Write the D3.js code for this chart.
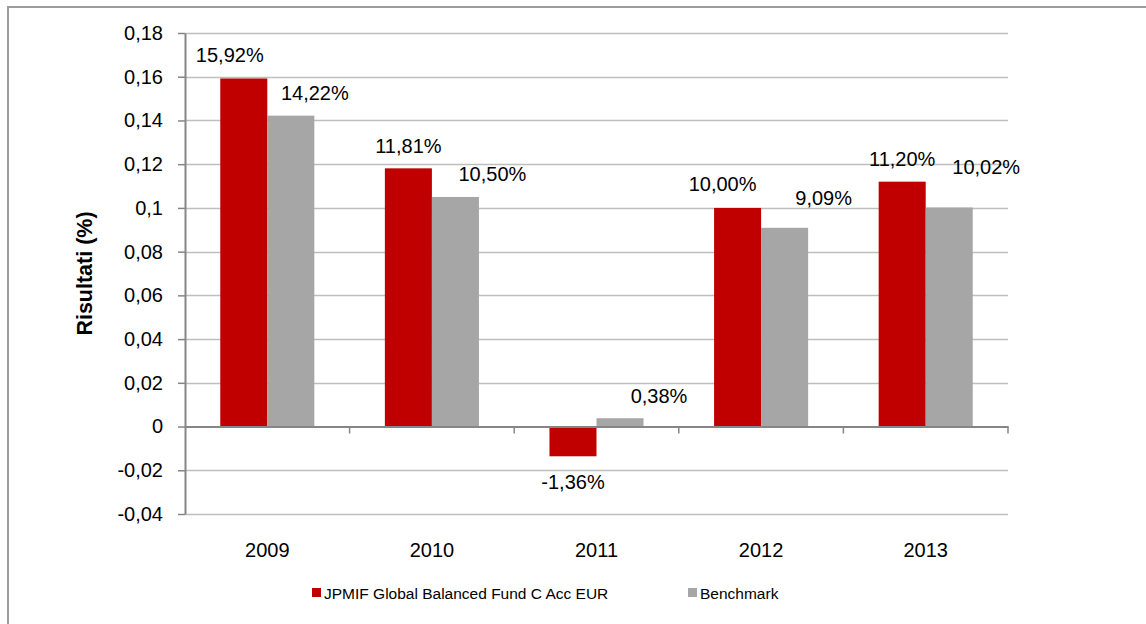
<!DOCTYPE html>
<html>
<head>
<meta charset="utf-8">
<script src="https://cdn.jsdelivr.net/npm/d3@7"></script>
<style>
  html, body { margin: 0; padding: 0; background: #fff; }
  svg { display: block; font-family: "Liberation Sans", Arial, sans-serif; }
</style>
</head>
<body>
<svg id="chart" width="1146" height="624"></svg>
<script>
// Annual returns, fund vs benchmark
const years = ["2009", "2010", "2011", "2012", "2013"];
const seriesNames = ["JPMIF Global Balanced Fund C Acc EUR", "Benchmark"];
const fundReturns = [0.1592, 0.1181, -0.0136, 0.1000, 0.1120];
const benchmarkReturns = [0.1422, 0.1050, 0.0038, 0.0909, 0.1002];
const yTicks = [-0.04, -0.02, 0, 0.02, 0.04, 0.06, 0.08, 0.1, 0.12, 0.14, 0.16, 0.18];
const yTitle = "Risultati (%)";

// Hand-placed data label nudges (px): [dx, extra lift]
const fundLabelNudge = [[-14, 1], [0, 0], [0, 0], [-15, 1], [0, 0]];
const benchLabelNudge = [[24, 0], [37, 0], [39, 0], [39, 7], [37, 18]];

const colors = ["#C00000", "#A6A6A6"];

const it = d3.formatLocale({
  decimal: ",", thousands: ".", grouping: [3], currency: ["", " €"], minus: "-"
});
const fmtTick = it.format(".2~f");
const fmtPct = it.format(".2%");

const svg = d3.select("#chart");

// Outer frame (open to the right and bottom edges of the canvas)
svg.append("rect")
  .attr("x", 8).attr("y", 7)
  .attr("width", 1200).attr("height", 700)
  .attr("fill", "none")
  .attr("stroke", "#9c9c9c")
  .attr("stroke-width", 2);

const plot = { left: 185, right: 1008, top: 33, bottom: 514 };

const x0 = d3.scaleBand().domain(years).range([plot.left, plot.right]).padding(0);
const x1 = d3.scaleBand().domain(seriesNames).range([0, x0.bandwidth()])
  .paddingInner(0).paddingOuter(0.75);
const y = d3.scaleLinear().domain([-0.04, 0.18]).range([plot.bottom, plot.top]);

// Gridlines
svg.append("g")
  .selectAll("line")
  .data(yTicks.filter(d => d !== 0))
  .join("line")
  .attr("x1", plot.left).attr("x2", plot.right)
  .attr("y1", d => Math.round(y(d)) + 0.5).attr("y2", d => Math.round(y(d)) + 0.5)
  .attr("stroke", "#BEBEBE").attr("stroke-width", 1.5);

// Bars
const rows = years.map((yr, i) => ({ year: yr, values: [fundReturns[i], benchmarkReturns[i]] }));
const groups = svg.append("g")
  .selectAll("g")
  .data(rows)
  .join("g")
  .attr("transform", d => `translate(${x0(d.year)},0)`);

groups.selectAll("rect")
  .data(d => d.values.map((v, j) => ({ v, name: seriesNames[j], j })))
  .join("rect")
  .attr("x", d => x1(d.name))
  .attr("width", x1.bandwidth())
  .attr("y", d => y(Math.max(0, d.v)))
  .attr("height", d => Math.abs(y(d.v) - y(0)))
  .attr("fill", d => colors[d.j]);

// Y axis
const yAxis = svg.append("g")
  .attr("transform", `translate(${plot.left},0)`)
  .call(d3.axisLeft(y).tickValues(yTicks).tickFormat(fmtTick)
    .tickSizeInner(7).tickSizeOuter(0).tickPadding(15));
yAxis.select(".domain").attr("stroke", "#868686").attr("stroke-width", 2);
yAxis.selectAll(".tick line").attr("stroke", "#868686").attr("stroke-width", 1.5);
yAxis.selectAll(".tick text")
  .attr("fill", "#000").attr("font-size", 20)
  .attr("font-family", "Liberation Sans, Arial, sans-serif");

// X axis line at zero with boundary ticks
const xAxis = svg.append("g")
  .attr("transform", `translate(0,${y(0)})`)
  .call(d3.axisBottom(x0).tickValues([]).tickSizeOuter(0));
xAxis.select(".domain").attr("stroke", "#868686").attr("stroke-width", 2);
const bounds = years.slice(1).map(d => x0(d)).concat([x0.range()[1]]);
xAxis.selectAll("line.bound")
  .data(bounds)
  .join("line")
  .attr("class", "bound")
  .attr("x1", d => d).attr("x2", d => d)
  .attr("y1", 0).attr("y2", 7)
  .attr("stroke", "#868686").attr("stroke-width", 1.5);

// Category labels below the plot
const xLabels = svg.append("g")
  .attr("transform", `translate(0,${plot.bottom})`)
  .call(d3.axisBottom(x0).tickSize(0).tickPadding(0));
xLabels.select(".domain").remove();
xLabels.selectAll(".tick text")
  .attr("y", 43).attr("dy", null)
  .attr("fill", "#000").attr("font-size", 20)
  .attr("font-family", "Liberation Sans, Arial, sans-serif");

// Data labels
groups.each(function (d, i) {
  const g = d3.select(this);
  d.values.forEach((v, j) => {
    const nudge = j === 0 ? fundLabelNudge[i] : benchLabelNudge[i];
    const cx = x1(seriesNames[j]) + x1.bandwidth() / 2 + nudge[0];
    const yy = v >= 0 ? y(v) - 15.5 - nudge[1] : y(v) + 33;
    g.append("text")
      .attr("x", cx).attr("y", yy)
      .attr("text-anchor", "middle")
      .attr("font-size", 20)
      .attr("fill", "#000")
      .text(fmtPct(v));
  });
});

// Y axis title
svg.append("text")
  .attr("transform", `translate(92,${(plot.top + plot.bottom) / 2}) rotate(-90)`)
  .attr("text-anchor", "middle")
  .attr("font-size", 21.5)
  .attr("font-weight", "bold")
  .attr("fill", "#000")
  .text(yTitle);

// Legend
const legendPos = [312, 688];
const legend = svg.append("g")
  .selectAll("g")
  .data(seriesNames)
  .join("g")
  .attr("transform", (d, i) => `translate(${legendPos[i]},588)`);
legend.append("rect")
  .attr("width", 9).attr("height", 9)
  .attr("fill", (d, i) => colors[i]);
legend.append("text")
  .attr("x", 12).attr("y", 11)
  .attr("font-size", 15.5)
  .attr("fill", "#000")
  .text(d => d);
</script>
</body>
</html>
